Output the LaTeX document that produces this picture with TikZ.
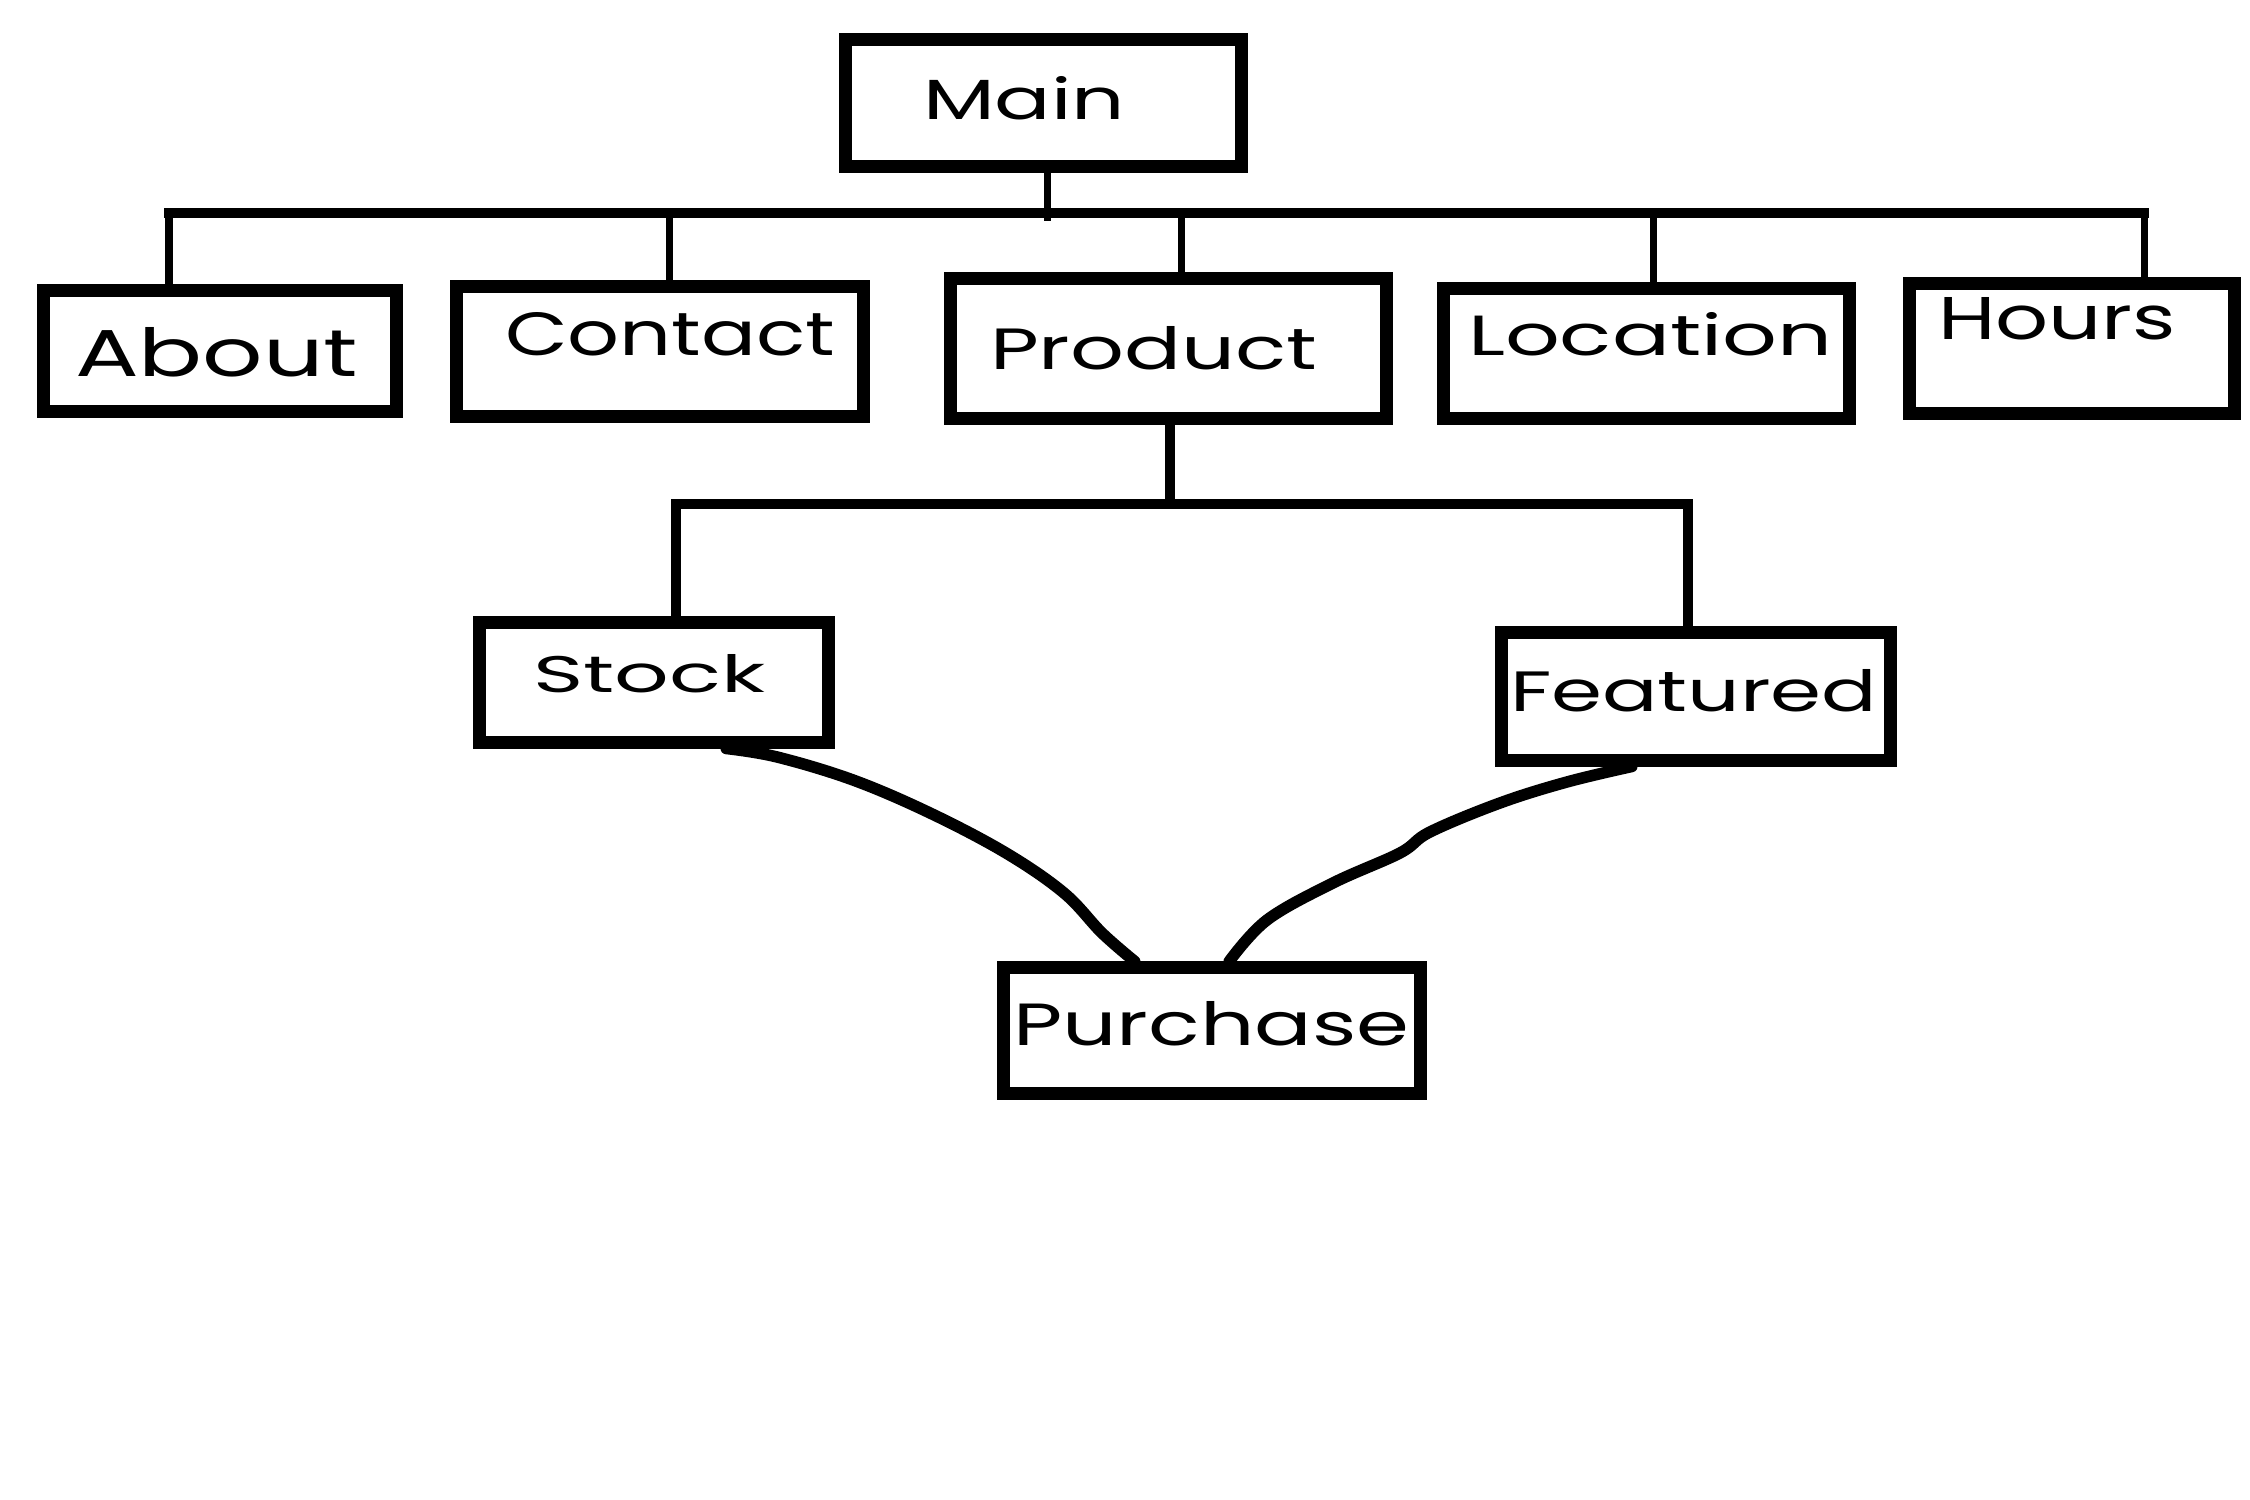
\documentclass[tikz,border=0pt]{standalone}
\usepackage{fontspec}
\setmainfont{Poppins}
\usetikzlibrary{calc}
\begin{document}
\begin{tikzpicture}[x=0.01cm,y=0.01cm,
  box/.style={draw,line width=0.13cm,inner sep=0pt,fill=none},
  lbl/.style={anchor=base west,inner sep=0pt,outer sep=0pt},
  bus/.style={line width=0.10cm,line cap=rect},
  stem/.style={line width=0.07cm},
  bus2/.style={line width=0.10cm,line join=miter},
  curve/.style={line width=0.115cm,line cap=round,line join=round}]
\fill[white] (0,0) rectangle (2250,1500);
\useasboundingbox (0,0) rectangle (2250,1500);
% boxes
\node[box,minimum width=3.95cm,minimum height=1.26cm] (main) at (1043.5,1397) {};
\node[box,minimum width=3.52cm,minimum height=1.20cm] (about) at (220,1149) {};
\node[box,minimum width=4.06cm,minimum height=1.29cm] (contact) at (660,1148.5) {};
\node[box,minimum width=4.35cm,minimum height=1.39cm] (product) at (1168.5,1151.5) {};
\node[box,minimum width=4.05cm,minimum height=1.29cm] (location) at (1646.5,1146.5) {};
\node[box,minimum width=3.24cm,minimum height=1.29cm] (hours) at (2072,1151.5) {};
\node[box,minimum width=3.48cm,minimum height=1.19cm] (stock) at (654,817.5) {};
\node[box,minimum width=3.88cm,minimum height=1.27cm] (featured) at (1696,803.5) {};
\node[box,minimum width=4.16cm,minimum height=1.25cm] (purchase) at (1212,469.5) {};
% labels
\node[lbl] (tmain) at (923,1380) {\resizebox{2.02cm}{0.43cm}{Main}};
\node[lbl] (tabout) at (75,1123) {\resizebox{2.83cm}{0.49cm}{About}};
\node[lbl] (tcontact) at (505,1144) {\resizebox{3.30cm}{0.43cm}{Contact}};
\node[lbl] (tproduct) at (990,1130) {\resizebox{3.27cm}{0.43cm}{Product}};
\node[lbl] (tlocation) at (1468,1144) {\resizebox{3.64cm}{0.43cm}{Location}};
\node[lbl] (thours) at (1938,1160) {\resizebox{2.38cm}{0.42cm}{Hours}};
\node[lbl] (tstock) at (533,807) {\resizebox{2.32cm}{0.38cm}{Stock}};
\node[lbl] (tfeatured) at (1510,788) {\resizebox{3.67cm}{0.42cm}{Featured}};
\node[lbl] (tpurchase) at (1013,454) {\resizebox{3.96cm}{0.44cm}{Purchase}};
% top bus
\coordinate (busL) at (169,1287);
\coordinate (busR) at (2144,1287);
\coordinate (jm) at (1047,1279);
\coordinate (jc) at (669,1287);
\coordinate (jp) at (1181,1287);
\coordinate (jl) at (1653,1287);
\draw[bus] (busL) -- (busR);
\draw[stem] (main.south -| jm) -- (jm);
\draw[stem] (busL) -- (busL |- about.north);
\draw[stem] (jc) -- (jc |- contact.north);
\draw[stem] (jp) -- (jp |- product.north);
\draw[stem] (jl) -- (jl |- location.north);
\draw[stem] (busR) -- (busR |- hours.north);
% second bus
\coordinate (b2L) at (676,996);
\coordinate (b2R) at (1688,996);
\coordinate (b2M) at (1170,996);
\draw[bus2] (b2L |- stock.north) -- (b2L) -- (b2R) -- (b2R |- featured.north);
\draw[bus2] (b2M |- product.south) -- (b2M);
% curves
\coordinate (s1) at ($(stock.south west)!0.70!(stock.south east)$);
\coordinate (p1) at ($(purchase.north west)!0.32!(purchase.north east)$);
\coordinate (f1) at ($(featured.south west)!0.34!(featured.south east)$);
\coordinate (p2) at ($(purchase.north west)!0.54!(purchase.north east)$);
\draw[curve] plot[smooth,tension=0.6] coordinates {(s1) (777,743) (853,720) (930,687) (1006,647) (1064,607) (1102,567) (p1)};
\draw[curve] plot[smooth,tension=0.6] coordinates {(f1) (1567,718) (1500,697) (1430,668) (1400,647) (1333,617) (1267,580) (p2)};
\end{tikzpicture}
\end{document}
